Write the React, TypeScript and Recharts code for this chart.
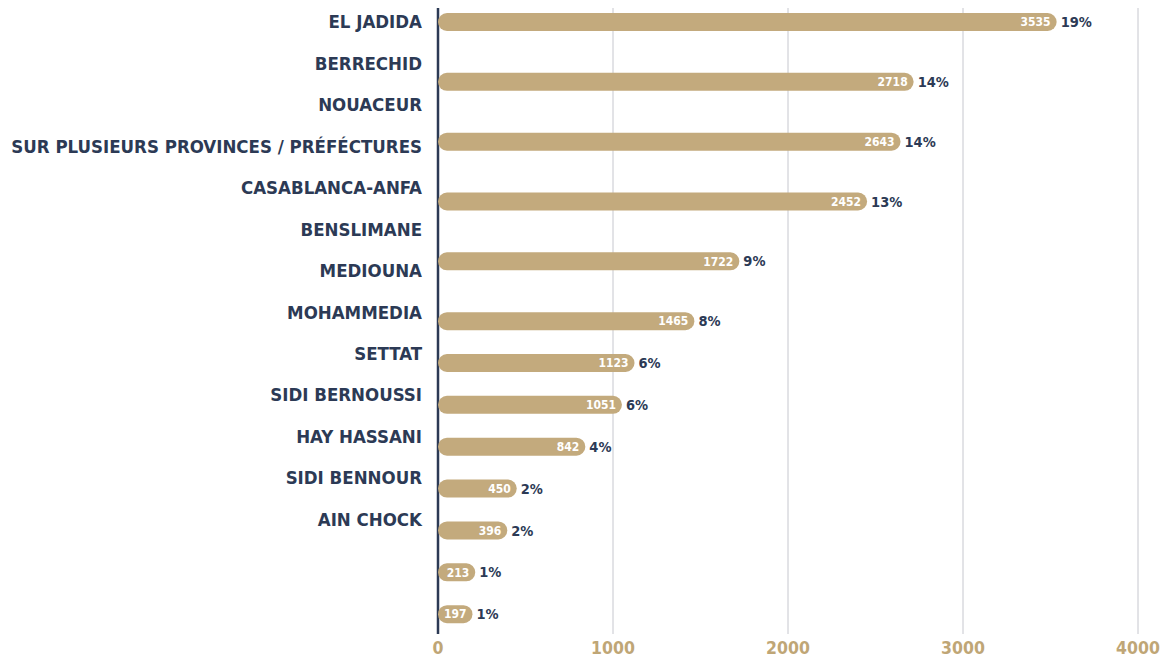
import { BarChart, Bar, XAxis, YAxis, CartesianGrid, LabelList } from "recharts";

const names = [
  "EL JADIDA",
  "BERRECHID",
  "NOUACEUR",
  "SUR PLUSIEURS PROVINCES / PRÉFÉCTURES",
  "CASABLANCA-ANFA",
  "BENSLIMANE",
  "MEDIOUNA",
  "MOHAMMEDIA",
  "SETTAT",
  "SIDI BERNOUSSI",
  "HAY HASSANI",
  "SIDI BENNOUR",
  "AIN CHOCK",
];
const values = [3535, 2718, 2643, 2452, 1722, 1465, 1123, 1051, 842, 450, 396, 213, 197];
const pcts = [19, 14, 14, 13, 9, 8, 6, 6, 4, 2, 2, 1, 1];
const xTicks = [0, 1000, 2000, 3000, 4000];

const rows = names.map((name, i) => ({ name, value: values[i], pct: pcts[i] }));

// the source spaces the first six bars wider than the rest
const SPLIT = 6;

const GOLD = "#c3aa7d";
const NAVY = "#2c3a55";
const FONT = "'DejaVu Sans Condensed', 'DejaVu Sans', sans-serif";

const W = 1164;
const H = 657;
const LEFT = 438;
const RIGHT = 26;

const BarsPart = ({ data, top, height }: { data: typeof rows; top: number; height: number }) => (
  <div style={{ position: "absolute", left: 0, top, pointerEvents: "none" }}>
    <BarChart
      width={W}
      height={height}
      data={data}
      layout="vertical"
      margin={{ top: 0, right: RIGHT, left: LEFT, bottom: 0 }}
    >
      <XAxis type="number" domain={[0, 4000]} allowDataOverflow hide />
      <YAxis type="category" dataKey="name" hide />
      <Bar dataKey="value" fill={GOLD} barSize={18} radius={[9, 9, 9, 9]} isAnimationActive={false}>
        <LabelList
          dataKey="value"
          position="insideRight"
          offset={6}
          fill="#ffffff"
          fontSize={12}
          fontWeight="bold"
          fontFamily={FONT}
          style={{ fontStretch: "condensed" }}
        />
        <LabelList
          dataKey="pct"
          position="right"
          offset={4}
          formatter={(v: number) => `${v}%`}
          fill={NAVY}
          fontSize={14.5}
          fontWeight="bold"
          fontFamily={FONT}
          style={{ fontStretch: "condensed" }}
        />
      </Bar>
    </BarChart>
  </div>
);

export default function App() {
  return (
    <div style={{ position: "absolute", left: 0, top: 0, width: W, height: H, background: "#fff" }}>
      <div style={{ position: "absolute", left: 0, top: 0 }}>
        <BarChart
          width={W}
          height={H}
          data={rows}
          layout="vertical"
          margin={{ top: 8, right: RIGHT, left: 0, bottom: 0 }}
        >
          <CartesianGrid horizontal={false} stroke="#c6c7ce" />
          <XAxis
            type="number"
            dataKey="value"
            domain={[0, 4000]}
            allowDataOverflow
            ticks={xTicks}
            axisLine={false}
            tickLine={false}
            height={23}
            tick={{ fill: "#bfa676", fontSize: 17.5, fontWeight: "bold", fontFamily: FONT, style: { fontStretch: "condensed" } }}
          />
          <YAxis
            type="category"
            dataKey="name"
            width={LEFT}
            interval={0}
            padding={{ top: -7, bottom: 94 }}
            tickLine={false}
            tickSize={6}
            tickMargin={10}
            axisLine={{ stroke: NAVY, strokeWidth: 2.5 }}
            tick={{ fill: NAVY, fontSize: 18.5, fontWeight: "bold", fontFamily: FONT, style: { fontStretch: "condensed" } }}
          />
        </BarChart>
      </div>
      <BarsPart data={rows.slice(0, SPLIT)} top={-8} height={359} />
      <BarsPart data={rows.slice(SPLIT)} top={342} height={293} />
    </div>
  );
}
